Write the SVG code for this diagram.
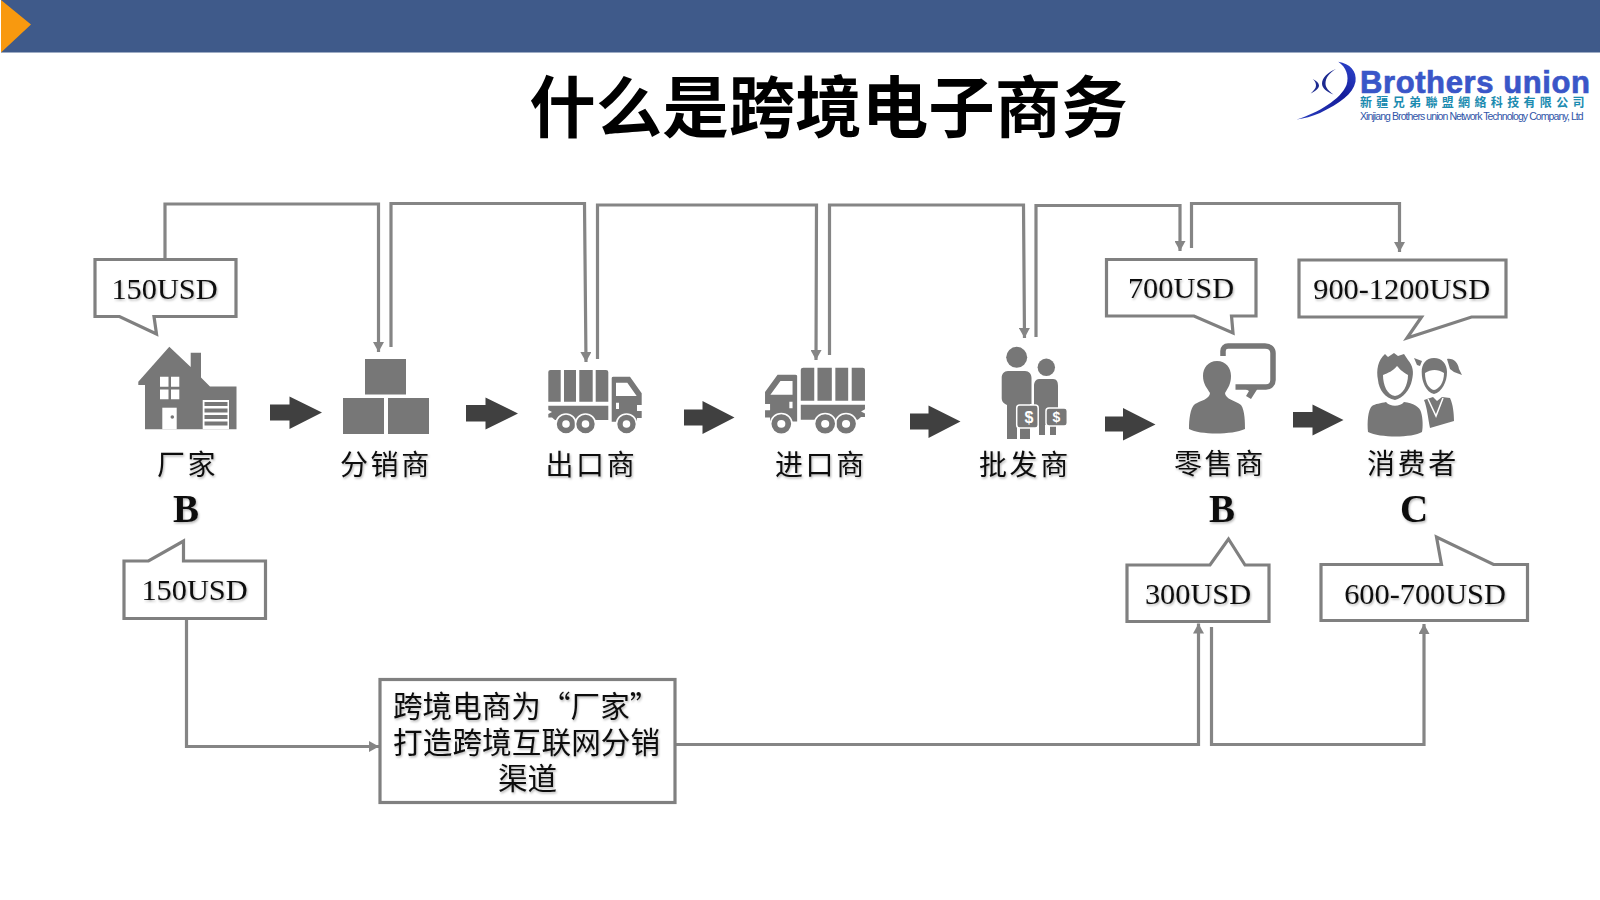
<svg xmlns="http://www.w3.org/2000/svg" xmlns:xlink="http://www.w3.org/1999/xlink" width="1600" height="900" viewBox="0 0 1600 900">
<style>
.t{font-family:"Liberation Serif",serif;font-size:30.3px;fill:#111;text-anchor:middle;filter:url(#sh)}
.c{font-family:"Noto Sans CJK SC","Liberation Sans",sans-serif;font-size:28px;fill:#111;letter-spacing:2.6px;filter:url(#sh)}
.b{font-family:"Liberation Serif",serif;font-size:39px;font-weight:bold;fill:#111;text-anchor:middle;filter:url(#sh)}
.n{font-family:"Noto Sans CJK SC","Liberation Sans",sans-serif;font-size:29.6px;fill:#111;filter:url(#sh)}
.box{fill:#fff;stroke:#808080;stroke-width:3.2}
.ln{fill:none;stroke:#858585;stroke-width:3.2}
.ic{fill:#777}
.icg{filter:url(#soft)}
.ar{fill:#404040}
</style>
<defs>
<filter id="sh" x="-10%" y="-20%" width="120%" height="150%"><feDropShadow dx="1" dy="1.5" stdDeviation="1.2" flood-color="#000" flood-opacity="0.3"/></filter>
<filter id="soft" x="-5%" y="-5%" width="110%" height="110%"><feGaussianBlur stdDeviation="0.55"/></filter>
<linearGradient id="sw" x1="0" y1="1" x2="1" y2="0"><stop offset="0" stop-color="#2a3fc0"/><stop offset="0.6" stop-color="#141c9a"/><stop offset="1" stop-color="#2f48d0"/></linearGradient>
<marker id="ah" markerUnits="userSpaceOnUse" markerWidth="11" markerHeight="11" refX="10" refY="5.5" orient="auto"><path d="M0 0L10 5.5L0 11Z" fill="#858585"/></marker>
<g id="truck">
<path class="ic" d="M548.300 372Q548.300 370 550.500 370H560.700V401.700H548.300ZM564 370H576V401.700H564ZM579.300 370H592.700V401.700H579.300ZM595.700 370H606Q608.300 370 608.300 372V401.700H595.700Z"/>
<path class="ic" d="M548.300 405.700H608.300V420H555L552 417.500H548.300V414L552 412L548.300 410Z"/>
<path class="ic" fill-rule="evenodd" d="M611.700 378Q611.700 376.700 613.500 376.700H630L641.700 393.300V405H637V411H641.700V418H637V421.700H611.700ZM616 382.700V396H636.700L627.300 382.700ZM616 402.700V409H619V402.700Z"/>
<g fill="#777" stroke="#fff" stroke-width="1.6"><circle cx="566" cy="424" r="10"/><circle cx="585.500" cy="424" r="10"/><circle cx="626.500" cy="424" r="10"/></g>
<g fill="#fff"><circle cx="566" cy="424" r="3.800"/><circle cx="585.500" cy="424" r="3.800"/><circle cx="626.500" cy="424" r="3.800"/></g>
</g>
</defs>
<rect x="1" y="0" width="1599" height="52.500" fill="#3f5a8a"/>
<path d="M1 0L31 24.500L1 52.500Z" fill="#f8990f"/>
<text x="828.600" y="131.500" text-anchor="middle" font-family="Noto Sans CJK SC, Liberation Sans, sans-serif" font-weight="700" font-size="66.500" fill="#000">什么是跨境电子商务</text>
<g id="logo">
<path d="M1296.700 119.500C1318 113 1341 99 1346.500 85C1349.500 76 1346 67 1338.300 61.700C1350 63.500 1357 71 1355.500 81.700C1353 94 1340 103 1320 113C1312 116.500 1304 118.500 1296.700 119.500Z" fill="url(#sw)"/>
<path d="M1312.700 79C1316.500 81 1319 83 1319 85.500C1319 88 1316 91 1310.700 93.500C1314 90.500 1316 88 1316 85.500C1316 83 1315 81 1312.700 79Z" fill="#1c2a90"/>
<path d="M1336 69C1329 73 1325.500 78 1325.500 83.500C1325.500 87.500 1328.500 91 1333.500 94.500C1326.500 92 1322 88 1322 83.500C1322 78 1328 72 1336 69Z" fill="#1c2a90"/>
<text font-family="Liberation Sans,sans-serif"><tspan x="1360" y="93" font-weight="700" font-size="31" fill="#3a56c8" stroke="#3a56c8" stroke-width="0.7" letter-spacing="0.6">Brothers union</tspan><tspan x="1360" y="107" font-family="Noto Sans CJK SC,sans-serif" font-weight="700" font-size="12" fill="#1b8bb0" letter-spacing="4.35">新疆兄弟聯盟網絡科技有限公司</tspan><tspan x="1360" y="119.500" font-size="10.500" fill="#2f55a8" letter-spacing="-0.92">Xinjiang Brothers union Network Technology Company, Ltd</tspan></text>
</g>
<g id="connectors">
<path class="ln" marker-end="url(#ah)" d="M165 259V204H378.500V352"/>
<path class="ln" marker-end="url(#ah)" d="M391 347V203.500H584.500L586 362"/>
<path class="ln" marker-end="url(#ah)" d="M597.500 359V205H816.500L816 360"/>
<path class="ln" marker-end="url(#ah)" d="M829.500 355V205H1023.500L1024.500 338"/>
<path class="ln" marker-end="url(#ah)" d="M1036 337V205.500H1180V251"/>
<path class="ln" marker-end="url(#ah)" d="M1191.500 248V203.500H1399.500V252"/>
<path class="ln" marker-end="url(#ah)" d="M186.500 619V746.500H379"/>
<path class="ln" marker-end="url(#ah)" d="M675 744.500H1198.500V623.500"/>
<path class="ln" marker-end="url(#ah)" d="M1211.500 627V744.500H1424V624"/>
</g>
<g id="flow-arrows" class="ar">
<path d="M270 404.500H289.500V396.500L322 412.500L289.500 429V420.500H270Z"/>
<path d="M466 405H485.500V397.500L518 413.500L485.500 429.500V421.500H466Z"/>
<path d="M684 409.500H702.500V401L734.500 417.500L702.500 434V425.500H684Z"/>
<path d="M910 413.500H928.500V405.500L960.500 421.500L928.500 438V429.500H910Z"/>
<path d="M1105 416.500H1123V408L1155.500 424.500L1123 440.500V431.500H1105Z"/>
<path d="M1293 412H1312.500V404.500L1343.500 420L1312.500 435.500V427.500H1293Z"/>
</g>
<g id="factory">
<g class="icg">
<path class="ic" d="M138.300 381.700L169.300 346.700L190.700 367V352.700H201V377.500L210 386.500H236.500V429.300H145V385H138.300Z"/>
<path d="M160 376.700H168.500V386.700H160ZM171 376.700H179.300V386.700H171ZM160 389.500H168.500V399.300H160ZM171 389.500H179.300V399.300H171Z" fill="#fff"/>
<path d="M162.300 407.700H176.700V429.300H162.300Z" fill="#fff"/>
<circle cx="172.300" cy="417" r="1.800" fill="#777"/>
<path d="M202.700 400H229V429.300H202.700Z" fill="#fff"/>
<path d="M204.500 402H227.500V406H204.500ZM204.500 408.500H227.500V412.500H204.500ZM204.500 415H227.500V419H204.500ZM204.500 421.500H227.500V425.500H204.500Z" fill="#777"/>
</g>
<text class="c" x="157" y="475">厂家</text>
<text class="b" x="186" y="522">B</text>
</g>
<g id="distributor">
<rect class="ic" x="365" y="359" width="41" height="35.500"/>
<rect class="ic" x="343" y="398" width="41" height="36"/>
<rect class="ic" x="388" y="398" width="41" height="36"/>
<text class="c" x="340" y="475">分销商</text>
</g>
<g id="exporter">
<use href="#truck" class="icg"/>
<text class="c" x="545.500" y="475">出口商</text>
</g>
<g id="importer">
<use href="#truck" class="icg" transform="translate(865.300 367.700) scale(-1.07 1.04) translate(-548 -370)"/>
<text class="c" x="775" y="475">进口商</text>
</g>
<g id="wholesaler">
<g class="icg">
<circle class="ic" cx="1016.700" cy="357.300" r="10.500"/>
<circle class="ic" cx="1046.300" cy="367.300" r="8.700"/>
<path class="ic" d="M1008 371H1025C1029 371 1031.500 374 1031.500 378V404H1030V439H1020V414H1017V439H1007V405C1003 403 1001.700 401 1001.700 398V378C1001.700 374 1004 371 1008 371Z"/>
<path class="ic" d="M1039 379H1053C1057 379 1058 382 1058 386V408H1056V435H1050V425H1045V435H1039V425H1034V386C1034 382 1036 379 1039 379Z"/>
<rect class="ic" x="1016.700" y="405" width="21.500" height="23" rx="3" stroke="#fff" stroke-width="1.500"/>
<rect class="ic" x="1046" y="408" width="21.300" height="18" rx="3" stroke="#fff" stroke-width="1.500"/>
</g>
<text x="1029" y="423" font-family="Liberation Sans,sans-serif" font-size="16" font-weight="700" fill="#fff" text-anchor="middle">$</text>
<text x="1056.500" y="422" font-family="Liberation Sans,sans-serif" font-size="14" font-weight="700" fill="#fff" text-anchor="middle">$</text>
<text class="c" x="979" y="475">批发商</text>
</g>
<g id="retailer">
<g class="icg">
<path class="ic" d="M1217 361C1226 361 1231 368 1231 376C1231 384 1228 388 1225 393C1225 399 1236 401 1241 405C1245 410 1245 424 1245 429C1232 435 1200 435 1189 429C1189 420 1190 408 1195 404C1200 401 1210 399 1210 393C1207 388 1203 384 1203 376C1203 368 1208 361 1217 361Z"/>
<path fill="none" stroke="#777" stroke-width="5.500" d="M1223 356V351C1223 348 1225 346 1228 346H1265C1270 346 1273 349 1273 353V380C1273 384 1270 387 1266 387H1235.500"/>
<path class="ic" d="M1244 388H1258L1251 399L1246 396L1249 391Z"/>
</g>
<text class="c" x="1174" y="474">零售商</text>
<text class="b" x="1222" y="522">B</text>
</g>
<g id="consumer">
<g class="icg">
<path class="ic" fill-rule="evenodd" d="M1385 354L1388 357L1394 353L1398 356L1404 354L1408 360C1413 366 1414 372 1412 380C1410 390 1403 398 1395 400C1385 398 1379 390 1378 380C1376 370 1378 360 1385 354ZM1383 375C1383 385 1387 395 1395 396C1403 395 1408 385 1408 375C1402 372 1399 368 1397 366C1393 371 1388 373 1383 375Z"/>
<path class="ic" d="M1386 402C1390 407 1400 407 1404 402C1413 403 1420 407 1421 412C1423 418 1423 428 1422 432C1412 438 1380 438 1368 432C1367 422 1368 410 1372 406C1375 404 1381 403 1386 402Z"/>
<path class="ic" fill-rule="evenodd" d="M1434 358C1442 358 1447 364 1447 372C1447 382 1442 392 1434 394C1426 392 1421.700 382 1421.700 372C1421.700 364 1426 358 1434 358ZM1425 373C1425 383 1429 389 1434 390C1439 389 1444 383 1444 373C1438 369 1431 369 1425 373Z"/>
<path class="ic" d="M1447 359C1454 358 1458 363 1459 369L1462 375L1454 372L1450 369Z"/>
<path class="ic" d="M1414 358L1422 361L1420 366L1417 365Z"/>
<path class="ic" d="M1424 400L1433 397L1437 401L1442 397L1450 398C1453 404 1454 414 1454 421L1430 428C1428 418 1427 407 1424 400Z"/>
<path d="M1428 399L1436 416L1443 398" fill="none" stroke="#fff" stroke-width="1.500"/>
</g>
<text class="c" x="1367" y="474">消费者</text>
<text class="b" x="1414" y="522">C</text>
</g>
<g id="price-factory-top">
<path class="box" d="M95 259.500H236V316.500H154L156.500 334L119.500 316.500H95Z"/>
<text class="t" x="164.500" y="299">150USD</text>
</g>
<g id="price-retail-top">
<path class="box" d="M1106.500 259.500H1256V316H1231.500L1233 333L1194 316H1106.500Z"/>
<text class="t" x="1181" y="298">700USD</text>
</g>
<g id="price-consumer-top">
<path class="box" d="M1299 260H1506V317H1471.500L1407 338L1421.500 317H1299Z"/>
<text class="t" x="1401.700" y="299">900-1200USD</text>
</g>
<g id="price-factory-bottom">
<path class="box" d="M124 561H148.500L183.500 541V561H265.500V618.500H124Z"/>
<text class="t" x="194.500" y="600">150USD</text>
</g>
<g id="price-retail-bottom">
<path class="box" d="M1127 565H1210L1228.500 539L1245 565H1269V621.500H1127Z"/>
<text class="t" x="1198" y="604">300USD</text>
</g>
<g id="price-consumer-bottom">
<path class="box" d="M1321 564.500H1441.500L1436.500 537L1493.500 564.500H1527.500V620.500H1321Z"/>
<text class="t" x="1425" y="604">600-700USD</text>
</g>
<g id="channel">
<rect class="box" x="380" y="679.500" width="295" height="123"/>
<text class="n"><tspan x="393" y="717">跨境电商为“厂家”</tspan><tspan x="393" y="753" letter-spacing="0.1">打造跨境互联网分销</tspan><tspan x="498" y="789">渠道</tspan></text>
</g>
</svg>
